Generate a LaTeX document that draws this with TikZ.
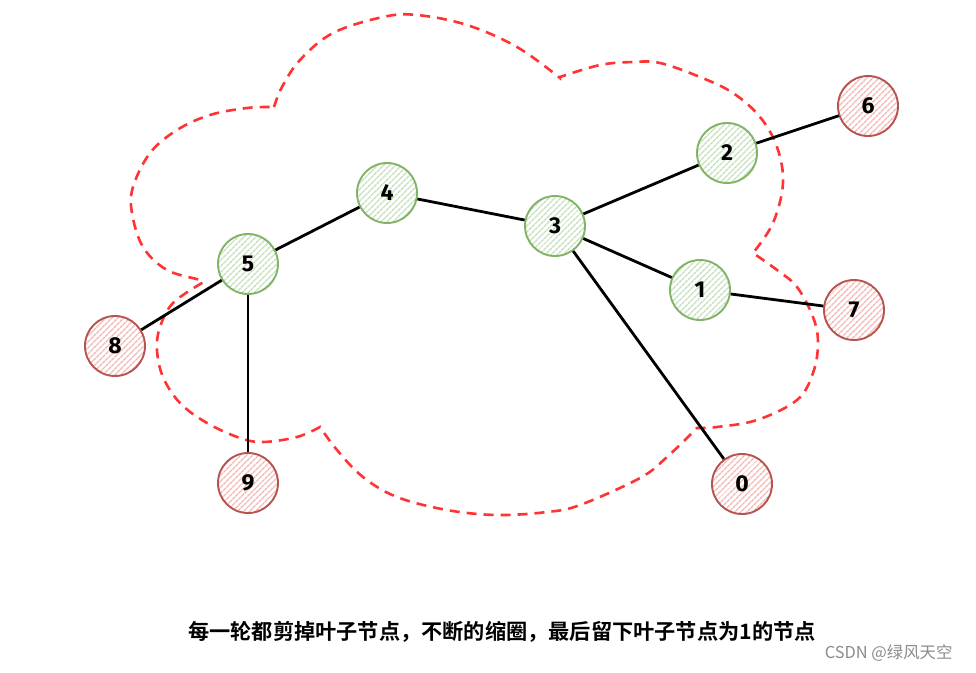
\documentclass[tikz,border=0pt]{standalone}
\usepackage{fontspec}
\setmainfont{Fira Sans}
\newfontfamily\cjkbold[BoldFont={Noto Sans CJK SC Bold}]{Noto Sans CJK SC}
\newfontfamily\cjk{Noto Sans CJK SC}
\usetikzlibrary{patterns.meta}
\definecolor{gborder}{HTML}{82B366}
\definecolor{ghatch}{HTML}{C5DEBB}
\definecolor{rborder}{HTML}{B85450}
\definecolor{rhatch}{HTML}{F2B8B5}
\definecolor{cloudred}{HTML}{FF3333}
\tikzset{
  vbase/.style={circle, minimum size=60pt, inner sep=0pt, line width=1.9pt,
    font=\fontsize{23}{23}\selectfont\bfseries},
  gnode/.style={vbase, draw=gborder,
    pattern={Lines[angle=45,distance=4pt,line width=1.5pt]}, pattern color=ghatch},
  rnode/.style={vbase, draw=rborder,
    pattern={Lines[angle=45,distance=4pt,line width=1.5pt]}, pattern color=rhatch},
  edge/.style={line width=2.8pt, black},
  cloud/.style={draw=cloudred, line width=2.6pt, dash pattern=on 10pt off 7pt},
}
\begin{document}
\begin{tikzpicture}[x=1pt,y=-1pt]
\useasboundingbox[fill=white] (0,0) rectangle (976,672);
% cloud
\draw[cloud]
  plot[smooth,tension=0.6] coordinates {(274,107)(282,87)(300,60)(333,33)(383,17)(417,15)(467,25)(517,47)(560,78)}
  -- plot[smooth,tension=0.6] coordinates {(560,77)(600,65)(633,62)(660,63)(700,77)(733,93)(760,117)(777,147)(783,183)(773,223)(753,253)}
  -- plot[smooth,tension=0.6] coordinates {(753,253)(777,270)(797,287)(813,317)(818,343)(813,373)(797,400)(757,420)(717,427)(697,428)}
  -- plot[smooth,tension=0.6] coordinates {(697,428)(667,457)(640,478)(580,505)(547,512)(497,515)(447,510)(397,497)(363,477)(337,450)(320,427)}
  -- plot[smooth,tension=0.6] coordinates {(320,427)(297,437)(263,442)(240,438)(207,423)(180,403)(163,377)(157,350)(160,327)(173,303)(202,283)}
  -- plot[smooth,tension=0.6] coordinates {(202,283)(200,280)(167,270)(143,247)(132,213)(133,187)(150,153)(177,130)(210,115)(247,108)(274,107)};
% nodes
\node[rnode] (n6) at (868,106) {6};
\node[gnode] (n2) at (727,153) {2};
\node[gnode] (n4) at (387,193) {4};
\node[gnode] (n3) at (555,226) {3};
\node[gnode] (n5) at (248,264) {5};
\node[gnode] (n1) at (700,290) {1};
\node[rnode] (n7) at (854,310) {7};
\node[rnode] (n8) at (115,346) {8};
\node[rnode] (n9) at (248,483) {9};
\node[rnode] (n0) at (742,484) {0};
% edges
\draw[edge] (n5) -- (n4);
\draw[edge] (n4) -- (n3);
\draw[edge] (n3) -- (n2);
\draw[edge] (n2) -- (n6);
\draw[edge] (n3) -- (n1);
\draw[edge] (n1) -- (n7);
\draw[edge] (n3) -- (n0);
\draw[edge] (n5) -- (n8);
\draw[edge] (n5) -- (n9);
% caption
\node[font=\cjkbold\bfseries\fontsize{21.2}{21.2}\selectfont, anchor=center] (cap) at (502,632)
  {每一轮都剪掉叶子节点，不断的缩圈，最后留下叶子节点为1的节点};
\node[font=\cjk\fontsize{16.4}{16.4}\selectfont, text=black!45, anchor=east] (wm) at (956,653)
  {CSDN @绿风天空};
\end{tikzpicture}
\end{document}
